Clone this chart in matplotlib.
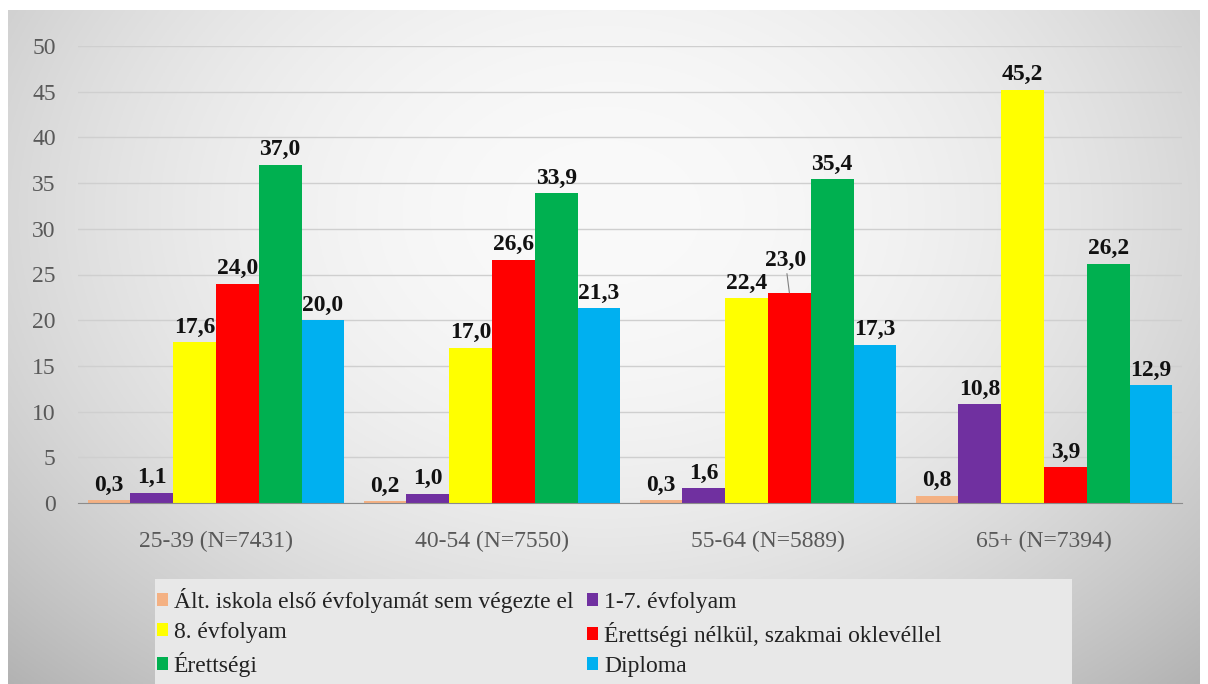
import numpy as np
import matplotlib
matplotlib.use('Agg')
import matplotlib.pyplot as plt
from matplotlib.patches import Rectangle

groups = ['25-39 (N=7431)', '40-54 (N=7550)', '55-64 (N=5889)', '65+ (N=7394)']
series = ['Ált. iskola első évfolyamát sem végezte el', '1-7. évfolyam', '8. évfolyam',
          'Érettségi nélkül, szakmai oklevéllel', 'Érettségi', 'Diploma']
values = [
    [0.3, 0.2, 0.3, 0.8],
    [1.1, 1.0, 1.6, 10.8],
    [17.6, 17.0, 22.4, 45.2],
    [24.0, 26.6, 23.0, 3.9],
    [37.0, 33.9, 35.4, 26.2],
    [20.0, 21.3, 17.3, 12.9],
]
colors = ['#F4B183', '#7030A0', '#FFFF00', '#FF0000', '#00B050', '#00B0F0']

plt.rcParams['font.family'] = ['Liberation Serif', 'DejaVu Serif']

fig = plt.figure(figsize=(12.08, 6.84), dpi=100)

# gradient background panel
bg = fig.add_axes([8/1208, 0, 1192/1208, 1 - 10/684])
yy, xx = np.mgrid[0:1:300j, 0:1:600j]
r = np.sqrt(((xx - 0.5) / 0.75) ** 2 + ((yy - 0.3) / 1.0) ** 2)
shade = 0.98 - 0.30 * r ** 2
bg.imshow(np.dstack([shade] * 3).clip(0, 1), aspect='auto', extent=[0, 1, 1, 0])
bg.axis('off')

# legend box
fig.patches.append(Rectangle((155/1208, 0), (1072 - 155)/1208, 1 - 579/684,
                             transform=fig.transFigure, facecolor='#e8e8e8',
                             edgecolor='none', zorder=1))

ax = fig.add_axes([78/1208, 1 - 503/684, 1104/1208, 457/684])
ax.patch.set_alpha(0)

n = len(series)
w = 0.155
x = np.arange(len(groups))
bars_list = []
for i in range(n):
    pos = x + (i - (n - 1) / 2) * w
    b = ax.bar(pos, values[i], w, color=colors[i], label=series[i], zorder=3)
    bars_list.append(b)
    for j, v in enumerate(values[i]):
        lbl = ('%.1f' % v).replace('.', ',')
        if i == 3 and j == 2:
            ax.annotate(lbl, xy=(pos[j], v), xytext=(pos[j] - 0.015, v + 2.4),
                        ha='center', va='bottom', fontsize=17, fontweight='bold',
                        color='#111111',
                        arrowprops=dict(arrowstyle='-', color='#808080', lw=0.8,
                                        shrinkA=0, shrinkB=0))
        else:
            ax.text(pos[j], v + 0.5, lbl, ha='center', va='bottom',
                    fontsize=17, fontweight='bold', color='#111111', zorder=4)

ax.set_xlim(-0.5, len(groups) - 0.5)
ax.set_ylim(0, 50)
ax.set_yticks(range(0, 51, 5))
ax.set_xticks(x)
ax.set_xticklabels(groups)
ax.tick_params(axis='both', length=0, labelsize=17, labelcolor='#595959')
ax.tick_params(axis='y', pad=16)
ax.tick_params(axis='x', pad=20)
ax.grid(axis='y', color='#cfcfcf', lw=1, zorder=0)
for s in ['top', 'right', 'left']:
    ax.spines[s].set_visible(False)
ax.spines['bottom'].set_color('#8c8c8c')
ax.spines['bottom'].set_zorder(5)

order = [0, 2, 4, 1, 3, 5]
handles = [bars_list[k] for k in order]
labels = [series[k] for k in order]
leg = fig.legend(handles, labels, ncol=2, loc='upper left',
                 bbox_to_anchor=(143/1208, 1 - 574/684),
                 prop={'family': 'Liberation Serif', 'size': 17},
                 frameon=False, handlelength=0.45, handleheight=0.45,
                 handletextpad=0.25, columnspacing=0.6, labelspacing=0.37,
                 borderpad=0.1, labelcolor='#222222')

fig.savefig('out.png', dpi=100)
